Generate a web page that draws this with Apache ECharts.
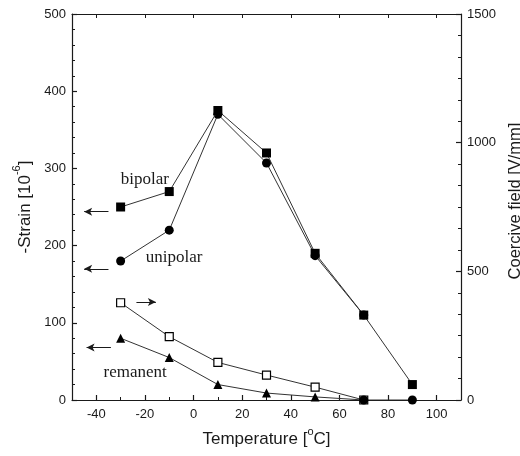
<!DOCTYPE html>
<html>
<head>
<meta charset="utf-8">
<script src="https://cdn.jsdelivr.net/npm/echarts@6/dist/echarts.min.js"></script>
<style>
  html, body { margin: 0; padding: 0; background: #fff; }
  #chart { width: 520px; height: 456px; }
</style>
</head>
<body>
<div id="chart"></div>
<script>
// Temperatures of the measurement points, °C
const temperatures = [-30, -10, 10, 30, 50, 70, 90];

// Strain (10^-6), left axis
const bipolarStrain  = [250, 270, 375, 320, 190, 110, 20];
const unipolarStrain = [180, 220, 370, 307, 187, 110, null];
const remanentStrain = [80, 55, 20, 9, 4, 0, 0];

// Coercive field (V/mm), right axis
const coerciveField = [378, 246, 146, 97, 50, 0, null];

// Tick values
const xMajorTicks = [-40, -20, 0, 20, 40, 60, 80, 100];
const xMinorTicks = [-50, -30, -10, 10, 30, 50, 70, 90, 110];

const pairs = (ys) => temperatures.map((t, i) => [t, ys[i]]).filter(p => p[1] !== null);

const ink = '#1a1a1a';
const sans = 'Arial, "Liberation Sans", sans-serif';
const serif = '"Times New Roman", "Liberation Serif", serif';

const chart = echarts.init(document.getElementById('chart'), null, { renderer: 'canvas' });

const lineStyle = { color: '#333', width: 1 };

// Remanent series: beyond the transition the points are plotted as filled circles
const remanentData = pairs(remanentStrain).map(p =>
  p[0] >= 70 ? { value: p, symbol: 'circle', symbolSize: 9 } : p);

const arrowLine = (x1, x2, y) => [{ coord: [x1, y] }, { coord: [x2, y] }];

const nameRich = {
  t: { fontFamily: sans, fontSize: 17, color: ink, lineHeight: 22, verticalAlign: 'bottom' },
  s: { fontFamily: sans, fontSize: 11, color: ink, lineHeight: 22, verticalAlign: 'top' }
};

const option = {
  animation: false,
  backgroundColor: '#fff',
  grid: { left: 72, right: 59, top: 14, bottom: 56, containLabel: false, outerBoundsMode: 'none' },
  xAxis: [
    {
      type: 'value', position: 'bottom', min: -50, max: 110,
      name: '{t|Temperature [}{s|o}{t|C]}',
      nameLocation: 'middle', nameGap: 26,
      nameTextStyle: { rich: nameRich },
      axisLine: { show: true, onZero: false, lineStyle: { color: ink, width: 1.2 } },
      axisTick: { show: true, inside: true, length: 5, customValues: xMajorTicks, lineStyle: { color: ink, width: 1.2 } },
      axisLabel: { customValues: xMajorTicks, fontFamily: sans, fontSize: 13, color: ink, margin: 8 },
      splitLine: { show: false }
    },
    {
      type: 'value', position: 'bottom', min: -50, max: 110,
      axisLine: { show: false },
      axisTick: { show: true, inside: true, length: 3, customValues: xMinorTicks, lineStyle: { color: ink, width: 1 } },
      axisLabel: { show: false },
      splitLine: { show: false }
    },
    {
      type: 'value', position: 'top', min: -50, max: 110,
      axisLine: { show: true, onZero: false, lineStyle: { color: ink, width: 1.2 } },
      axisTick: { show: true, inside: true, length: 4, customValues: xMajorTicks, lineStyle: { color: ink, width: 1 } },
      axisLabel: { show: false },
      splitLine: { show: false }
    }
  ],
  yAxis: [
    {
      type: 'value', position: 'left', min: 0, max: 500, interval: 100,
      name: '{t|-Strain [10}{s|-6}{t|]}',
      nameLocation: 'middle', nameGap: 33, nameRotate: 90,
      nameTextStyle: { rich: nameRich },
      axisLine: { show: true, onZero: false, lineStyle: { color: ink, width: 1.2 } },
      axisTick: { show: true, inside: true, length: 5, lineStyle: { color: ink, width: 1.2 } },
      minorTick: { show: true, splitNumber: 5, length: 3, lineStyle: { color: ink, width: 1 } },
      axisLabel: { fontFamily: sans, fontSize: 13, color: ink, margin: 6 },
      splitLine: { show: false }
    },
    {
      type: 'value', position: 'right', min: 0, max: 1500, interval: 500,
      name: 'Coercive field [V/mm]',
      nameLocation: 'middle', nameGap: 37, nameRotate: 90,
      nameTextStyle: { fontFamily: sans, fontSize: 16.5, color: ink, padding: [0, 0, 0, 12] },
      axisLine: { show: true, onZero: false, lineStyle: { color: ink, width: 1.2 } },
      axisTick: { show: true, inside: true, length: 5, lineStyle: { color: ink, width: 1.2 } },
      minorTick: { show: true, splitNumber: 6, length: 3, lineStyle: { color: ink, width: 1 } },
      axisLabel: { fontFamily: sans, fontSize: 13, color: ink, margin: 6, formatter: (v) => String(v) },
      splitLine: { show: false }
    }
  ],
  series: [
    {
      name: 'unipolar', type: 'line', xAxisIndex: 0, yAxisIndex: 0,
      data: pairs(unipolarStrain),
      symbol: 'circle', symbolSize: 9,
      itemStyle: { color: '#000' }, lineStyle,
      markPoint: {
        symbol: 'circle', symbolSize: 0, silent: true,
        label: { show: true, position: 'inside', fontFamily: serif, fontSize: 17, color: ink },
        data: [{ coord: [-8, 185], value: 'unipolar', label: { formatter: 'unipolar' } }]
      },
      markLine: {
        silent: true, symbol: ['none', 'arrow'], symbolSize: [6, 8],
        lineStyle: { color: ink, width: 1, type: 'solid' }, label: { show: false },
        data: [arrowLine(-35, -45, 170)]
      },
      z: 3
    },
    {
      name: 'bipolar', type: 'line', xAxisIndex: 0, yAxisIndex: 0,
      data: pairs(bipolarStrain),
      symbol: 'rect', symbolSize: 9,
      itemStyle: { color: '#000' }, lineStyle,
      markPoint: {
        symbol: 'circle', symbolSize: 0, silent: true,
        label: { show: true, position: 'inside', fontFamily: serif, fontSize: 17, color: ink },
        data: [{ coord: [-20, 285], value: 'bipolar', label: { formatter: 'bipolar' } }]
      },
      markLine: {
        silent: true, symbol: ['none', 'arrow'], symbolSize: [6, 8],
        lineStyle: { color: ink, width: 1, type: 'solid' }, label: { show: false },
        data: [arrowLine(-35, -45, 244)]
      },
      z: 4
    },
    {
      name: 'coercive', type: 'line', xAxisIndex: 0, yAxisIndex: 1,
      data: pairs(coerciveField),
      symbol: 'rect', symbolSize: 8,
      itemStyle: { color: '#fff', borderColor: '#000', borderWidth: 1.2 },
      lineStyle,
      z: 3
    },
    {
      name: 'remanent', type: 'line', xAxisIndex: 0, yAxisIndex: 0,
      data: remanentData,
      symbol: 'triangle', symbolSize: 9,
      itemStyle: { color: '#000' }, lineStyle,
      markPoint: {
        symbol: 'circle', symbolSize: 0, silent: true,
        label: { show: true, position: 'inside', fontFamily: serif, fontSize: 17, color: ink },
        data: [{ coord: [-24, 36], value: 'remanent', label: { formatter: 'remanent' } }]
      },
      markLine: {
        silent: true, symbol: ['none', 'arrow'], symbolSize: [6, 8],
        lineStyle: { color: ink, width: 1, type: 'solid' }, label: { show: false },
        data: [arrowLine(-34, -44, 68), arrowLine(-23.5, -15.5, 127)]
      },
      z: 3
    }
  ]
};

chart.setOption(option);
</script>
</body>
</html>
